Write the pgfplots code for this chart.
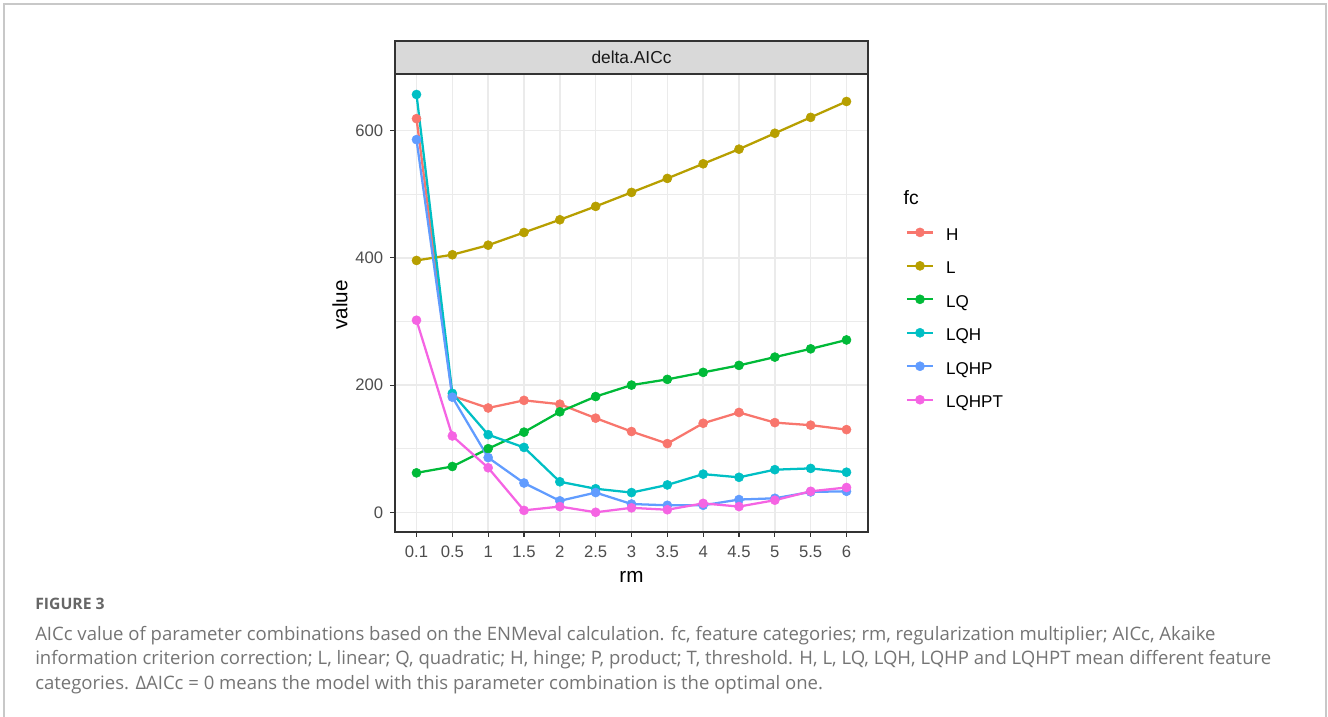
\documentclass[border=0pt]{standalone}
\usepackage{pgfplots}
\pgfplotsset{compat=1.18}
\usepackage{pgfplotstable}
\usepackage{fontspec}
\setmainfont{Liberation Sans}
\newfontfamily\capfont{Open Sans}

\definecolor{cH}{HTML}{F8766D}
\definecolor{cL}{HTML}{B79F00}
\definecolor{cLQ}{HTML}{00BA38}
\definecolor{cLQH}{HTML}{00BFC4}
\definecolor{cLQHP}{HTML}{619CFF}
\definecolor{cLQHPT}{HTML}{F564E3}
\definecolor{gridc}{HTML}{EBEBEB}
\definecolor{framec}{HTML}{333333}
\definecolor{ticklab}{HTML}{4D4D4D}
\definecolor{stripc}{HTML}{D9D9D9}
\definecolor{capgrey}{HTML}{747474}
\definecolor{figgrey}{HTML}{666666}
\definecolor{boxgrey}{HTML}{C8C8C8}

\pgfplotstableread{
x H L LQ LQH LQHP LQHPT
0 619 396 62 657 586 302
1 183 405 72 187 181 120
2 164 420 100 122 86 70
3 176 440 126 102 46 3
4 170 460 158 48 18 9
5 148 481 182 37 31 0
6 127 503 200 31 13 7
7 108 525 209 43 11 4
8 140 548 220 60 11 14
9 157 571 231 55 20 9
10 141 596 244 67 22 19
11 137 621 257 69 32 33
12 130 646 271 63 33 39
}\datatable

\pgfplotsset{
  lineonly/.style={line width=1.7pt, no markers, forget plot},
  markonly/.style={only marks, mark=*, mark size=3.4pt, mark options={draw=none, fill=#1}, color=#1,
    legend image code/.code={
      \draw[#1, line width=1.7pt] (0pt,1.4pt) -- (19.5pt,1.4pt);
      \fill[#1] (9.75pt,1.4pt) circle (3.4pt);}},
}

\begin{document}
\begin{tikzpicture}
\begin{scope}[x=0.75pt,y=0.75pt]
\path[use as bounding box] (0,0) rectangle (1328,717);
\draw[boxgrey, line width=0.8pt] (4,0) -- (4,713) -- (1326,713) -- (1326,0);
\end{scope}

\begin{axis}[
  at={(296.25pt,138.75pt)}, anchor=south west,
  scale only axis, width=354.75pt, height=343.5pt,
  xmin=-0.6, xmax=12.6, ymin=-31, ymax=689.2,
  xtick={0,...,12},
  xticklabels={0.1,0.5,1,1.5,2,2.5,3,3.5,4,4.5,5,5.5,6},
  ytick={0,200,400,600}, minor ytick={100,300,500},
  grid=both,
  major grid style={gridc, line width=1.1pt},
  minor grid style={gridc, line width=0.55pt},
  axis line style={framec, line width=0.8pt},
  tick align=outside, major tick length=3.75pt, minor tick length=0pt,
  tick style={framec, line width=0.8pt},
  xtick pos=bottom, ytick pos=left,
  ticklabel style={font=\fontsize{12.5}{14}\selectfont, text=ticklab},
  xticklabel style={anchor=north, inner sep=0pt, yshift=-6.5pt},
  yticklabel style={anchor=east, inner sep=0pt, xshift=-5pt},
  /pgf/number format/assume math mode=true,
  clip=false,
  legend style={at={(1.071,0.468)}, anchor=west, draw=none, fill=none,
    font=\fontsize{12.8}{14}\selectfont,
    nodes={inner sep=0pt, text height=9.2pt, text depth=0pt},
    row sep=15.5pt,
    /tikz/every odd column/.append style={column sep=9pt}},
  legend cell align=left,
]
\addplot[cH, lineonly] table[x=x,y=H]{\datatable};
\addplot[cL, lineonly] table[x=x,y=L]{\datatable};
\addplot[cLQ, lineonly] table[x=x,y=LQ]{\datatable};
\addplot[cLQH, lineonly] table[x=x,y=LQH]{\datatable};
\addplot[cLQHP, lineonly] table[x=x,y=LQHP]{\datatable};
\addplot[cLQHPT, lineonly] table[x=x,y=LQHPT]{\datatable};

\addplot[markonly=cH] table[x=x,y=H]{\datatable};
\addlegendentry{H}
\addplot[markonly=cL] table[x=x,y=L]{\datatable};
\addlegendentry{L}
\addplot[markonly=cLQ] table[x=x,y=LQ]{\datatable};
\addlegendentry{LQ}
\addplot[markonly=cLQH] table[x=x,y=LQH]{\datatable};
\addlegendentry{LQH}
\addplot[markonly=cLQHP] table[x=x,y=LQHP]{\datatable};
\addlegendentry{LQHP}
\addplot[markonly=cLQHPT] table[x=x,y=LQHPT]{\datatable};
\addlegendentry{LQHPT}

\draw[fill=stripc, draw=framec, line width=0.8pt] (rel axis cs:0,1) rectangle (rel axis cs:1,1.07205);
\node[font=\fontsize{13}{15}\selectfont, text=black!90] at (rel axis cs:0.5,1.036) {delta.AICc};
\end{axis}

\begin{scope}[x=0.75pt,y=0.75pt]
\node[anchor=west, font=\fontsize{14.5}{16}\selectfont] at (899,519) {fc};
\node[rotate=90, font=\fontsize{15.5}{17}\selectfont] at (340,412) {value};
\node[font=\fontsize{15.5}{17}\selectfont] at (631.5,140) {rm};

\node[anchor=base west, inner sep=0pt, font=\capfont\bfseries\fontsize{11.8}{13}\selectfont, text=figgrey] at (35,107.5) {FIGURE 3};
\begin{scope}[every node/.style={anchor=base west, inner sep=0pt, font=\capfont\fontsize{13.9}{16}\selectfont, text=capgrey}]
\node at (35,76.5) {AICc value of parameter combinations based on the ENMeval calculation. fc, feature categories; rm, regularization multiplier; AICc, Akaike};
\node at (35,52) {information criterion correction; L, linear; Q, quadratic; H, hinge; P, product; T, threshold. H, L, LQ, LQH, LQHP and LQHPT mean different feature};
\node at (35,27.5) {categories. ΔAICc = 0 means the model with this parameter combination is the optimal one.};
\end{scope}
\end{scope}
\end{tikzpicture}
\end{document}
